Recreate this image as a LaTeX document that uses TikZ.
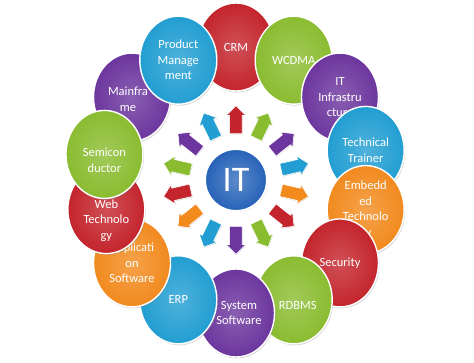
\documentclass[tikz,border=0pt]{standalone}
\usepackage{fontspec}
\setmainfont{Carlito}
\usetikzlibrary{shapes.geometric,shapes.arrows,shadows}

\definecolor{itred}{RGB}{196,36,44}
\definecolor{itgreen}{RGB}{138,188,48}
\definecolor{itpurple}{RGB}{108,54,158}
\definecolor{itcyan}{RGB}{34,158,210}
\definecolor{itorange}{RGB}{242,138,30}
\definecolor{itblue}{RGB}{38,98,184}

\tikzset{
  bubble/.style={ellipse, minimum width=77pt, minimum height=88pt, inner sep=0pt,
    draw=white, line width=1.4pt, inner color=#1!80!white, outer color=#1,
    drop shadow={opacity=0.3, shadow xshift=1pt, shadow yshift=-1.5pt}},
  btext/.style={text=white, align=center, font=\fontsize{12.5}{15.5}\selectfont},
  ray/.style={single arrow, minimum height=28pt,
    single arrow head extend=3.5pt, inner xsep=0pt, inner ysep=6pt, anchor=tail,
    fill=#1, draw=white, line width=0.6pt,
    drop shadow={opacity=0.25, shadow xshift=0.6pt, shadow yshift=-0.8pt}}
}

\begin{document}
\begin{tikzpicture}
  \useasboundingbox (-236pt,-182pt) rectangle (238pt,180pt);

  % outer ring, clockwise from the top
  \node [bubble=itred, name=crm, label={[btext]center:CRM}] at (90:133pt) {};
  \node [bubble=itgreen, name=wcdma, label={[btext]center:WCDMA}] at (64.29:133pt) {};
  \node [bubble=itpurple, name=infra, label={[btext]center:{IT\\Infrastru\\cture}}] at (38.57:133pt) {};
  \node [bubble=itcyan, name=trainer, label={[btext]center:{Technical\\Trainer}}] at (12.86:133pt) {};
  \node [bubble=itorange, name=embedded, label={[btext]center:{Embedd\\ed\\Technolo\\gy}}] at (-12.86:133pt) {};
  \node [bubble=itred, name=security, label={[btext]center:Security}] at (-38.57:133pt) {};
  \node [bubble=itgreen, name=rdbms, label={[btext, xshift=4pt, yshift=-6pt]center:RDBMS}] at (-64.29:133pt) {};
  \node [bubble=itpurple, name=syssoft, label={[btext, xshift=3pt]center:{System\\Software}}] at (-90:133pt) {};
  \node [bubble=itcyan, name=erp, label={[btext]center:ERP}] at (-115.71:133pt) {};
  \node [bubble=itorange, name=appsoft, label={[btext]center:{Applicati\\on\\Software}}] at (-141.43:133pt) {};
  \node [bubble=itred, name=webtech, label={[btext, yshift=-11pt]center:{Web\\Technolo\\gy}}] at (-167.14:133pt) {};
  \node [bubble=itpurple, name=mainframe, label={[btext, xshift=-4pt, yshift=-2pt]center:{Mainfra\\me}}] at (141.43:133pt) {};
  \node [bubble=itgreen, name=semicon, label={[btext, yshift=-6pt]center:{Semicon\\ductor}}] at (169:134pt) {};
  \node [bubble=itcyan, name=product, label={[btext]center:{Product\\Manage\\ment}}] at (115.71:133pt) {};

  % arrows out of the hub
  \node [ray=itred, name=r1, rotate=90] at (90:46pt) {};
  \node [ray=itgreen, name=r2, rotate=64.29] at (64.29:46pt) {};
  \node [ray=itpurple, name=r3, rotate=38.57] at (38.57:46pt) {};
  \node [ray=itcyan, name=r4, rotate=12.86] at (12.86:46pt) {};
  \node [ray=itorange, name=r5, rotate=-12.86] at (-12.86:46pt) {};
  \node [ray=itred, name=r6, rotate=-38.57] at (-38.57:46pt) {};
  \node [ray=itgreen, name=r7, rotate=-64.29] at (-64.29:46pt) {};
  \node [ray=itpurple, name=r8, rotate=-90] at (-90:46pt) {};
  \node [ray=itcyan, name=r9, rotate=-115.71] at (-115.71:46pt) {};
  \node [ray=itorange, name=r10, rotate=-141.43] at (-141.43:46pt) {};
  \node [ray=itred, name=r11, rotate=-167.14] at (-167.14:46pt) {};
  \node [ray=itgreen, name=r12, rotate=167.14] at (167.14:46pt) {};
  \node [ray=itpurple, name=r13, rotate=141.43] at (141.43:46pt) {};
  \node [ray=itcyan, name=r14, rotate=115.71] at (115.71:46pt) {};

  % hub
  \node [name=it, circle, minimum size=62pt, inner sep=0pt, draw=white, line width=2pt,
    inner color=itblue!75!white, outer color=itblue, text=white,
    font=\fontsize{36}{36}\selectfont,
    drop shadow={opacity=0.35, shadow xshift=0.8pt, shadow yshift=-1pt}] at (0,0) {IT};
\end{tikzpicture}
\end{document}
